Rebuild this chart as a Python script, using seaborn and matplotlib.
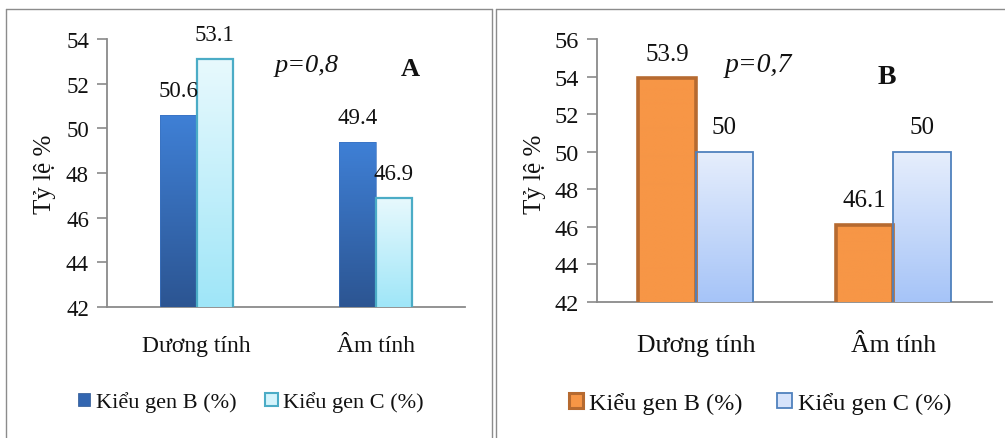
import numpy as np
import pandas as pd
import matplotlib
matplotlib.use("Agg")
import matplotlib.pyplot as plt
from matplotlib.patches import Patch
from matplotlib.lines import Line2D
import matplotlib.colors as mcolors
import seaborn as sns

# ---- data ----
categories = ["Dương tính", "Âm tính"]
series_names = ["Kiểu gen B (%)", "Kiểu gen C (%)"]
panel_a_b = [50.6, 49.4]
panel_a_c = [53.1, 46.9]
panel_b_b = [53.9, 46.1]
panel_b_c = [50.0, 50.0]
ticks_a = [42, 44, 46, 48, 50, 52, 54]
ticks_b = [42, 44, 46, 48, 50, 52, 54, 56]

sns.set_theme(style="white")
SERIF = ["Liberation Serif", "DejaVu Serif"]
plt.rcParams["font.family"] = SERIF
plt.rcParams["font.serif"] = SERIF

W, H = 1005, 439
fig = plt.figure(figsize=(W / 100, H / 100), dpi=100)


def fx(px):
    return px / W


def fy(py):
    return 1 - py / H


def long_frame(b_vals, c_vals):
    rows = []
    for name, vals in zip(series_names, [b_vals, c_vals]):
        for cat, v in zip(categories, vals):
            rows.append({"cat": cat, "series": name, "value": v})
    return pd.DataFrame(rows)


def gradient_fill(ax, patch, top_col, bot_col, ymin):
    x, w = patch.get_x(), patch.get_width()
    ytop = patch.get_y() + patch.get_height()
    c1 = np.array(mcolors.to_rgb(top_col))
    c2 = np.array(mcolors.to_rgb(bot_col))
    t = np.linspace(0, 1, 128)[:, None]
    img = (c1 * (1 - t) + c2 * t)[:, None, :]
    im = ax.imshow(img, extent=[x, x + w, ymin, ytop], origin="upper",
                   aspect="auto", zorder=patch.get_zorder() - 0.1,
                   interpolation="bilinear")
    im.set_clip_path(patch)


def draw_panel(rect, b_vals, c_vals, ticks, width, styles, fs, letter,
               pval, pval_xy, letter_xy, ylabel_xy):
    ax = fig.add_axes(rect)
    df = long_frame(b_vals, c_vals)
    sns.barplot(data=df, x="cat", y="value", hue="series", order=categories,
                hue_order=series_names, width=width, gap=0, ax=ax,
                palette=["#ffffff", "#ffffff"], legend=False, errorbar=None,
                saturation=1)
    ax.set_ylim(ticks[0], ticks[-1])
    ax.set_xlim(-0.5, 1.5)
    ax.set_yticks(ticks)
    ax.set_yticklabels([str(t) for t in ticks], family=SERIF)
    ax.set_xticks(range(len(categories)))
    ax.set_xticklabels(categories, family=SERIF)
    ymin = ticks[0]
    for cont, st in zip(ax.containers, styles):
        for p in cont.patches:
            p.set_facecolor("none")
            p.set_edgecolor(st["edge"])
            p.set_linewidth(st["lw"])
            p.set_zorder(3)
            gradient_fill(ax, p, st["top"], st["bot"], ymin)
        ax.bar_label(cont, labels=[f"{v:g}" for v in cont.datavalues],
                     padding=10, fontsize=fs["val"], color="#111111",
                     family=SERIF)
    for side in ["top", "right"]:
        ax.spines[side].set_visible(False)
    for side in ["left", "bottom"]:
        ax.spines[side].set_color("#8a8a8a")
        ax.spines[side].set_linewidth(1.3)
    ax.tick_params(axis="y", which="major", left=True, length=7, width=1.2,
                   color="#8a8a8a", labelsize=fs["tick"], pad=6,
                   labelcolor="#111111")
    ax.tick_params(axis="x", bottom=False, labelsize=fs["cat"], pad=fs["catpad"],
                   labelcolor="#111111")
    ax.set_xlabel("")
    ax.set_ylabel("")
    ax.set_facecolor("none")
    fig.text(fx(ylabel_xy[0]), fy(ylabel_xy[1]), "Tỷ lệ %", rotation=90,
             ha="center", va="center", fontsize=fs["ylab"], color="#111111",
             family=SERIF)
    fig.text(fx(pval_xy[0]), fy(pval_xy[1]), pval, style="italic",
             ha="center", va="center", fontsize=fs["p"], color="#111111",
             family=SERIF)
    fig.text(fx(letter_xy[0]), fy(letter_xy[1]), letter, weight="bold",
             ha="center", va="center", fontsize=fs["p"], color="#111111",
             family=SERIF)
    return ax


fs_a = {"val": 16.5, "tick": 16.5, "cat": 17, "catpad": 14, "ylab": 18, "p": 19}
fs_b = {"val": 18, "tick": 17.5, "cat": 18.5, "catpad": 17, "ylab": 18, "p": 20}

styles_a = [
    {"top": "#3f80d6", "bot": "#2c5592", "edge": "#3a72c0", "lw": 0.5},
    {"top": "#e8f9fd", "bot": "#9fe6f8", "edge": "#4bacc6", "lw": 1.6},
]
styles_b = [
    {"top": "#f79646", "bot": "#f79646", "edge": "#b66a30", "lw": 2.6},
    {"top": "#e6eefc", "bot": "#a6c4f8", "edge": "#4f81bd", "lw": 1.3},
]

ax_a = draw_panel([fx(107), fy(308), fx(465) - fx(107), fy(40) - fy(308)],
                  panel_a_b, panel_a_c, ticks_a, 0.41, styles_a, fs_a, "A",
                  "p=0,8", (307, 66), (410, 70), (45, 174))
ax_b = draw_panel([fx(597), fy(303), fx(992) - fx(597), fy(40) - fy(303)],
                  panel_b_b, panel_b_c, ticks_b, 0.58, styles_b, fs_b, "B",
                  "p=0,7", (758, 66), (887, 78), (535, 174))

# legends
leg_a = [Patch(facecolor="#3366b0", edgecolor="#2c5592", lw=0.5),
         Patch(facecolor="#d4f4fc", edgecolor="#4bacc6", lw=1.5)]
leg_b = [Patch(facecolor="#f79646", edgecolor="#b66a30", lw=2.2),
         Patch(facecolor="#d6e3fb", edgecolor="#4f81bd", lw=1.3)]
fig.legend(leg_a, series_names, loc="center", bbox_to_anchor=(fx(251), fy(403)),
           ncol=2, frameon=False, prop={"family": SERIF, "size": 16},
           handlelength=0.55, handleheight=0.55, handletextpad=0.25,
           columnspacing=1.3, labelcolor="#111111")
fig.legend(leg_b, series_names, loc="center", bbox_to_anchor=(fx(760), fy(404)),
           ncol=2, frameon=False, prop={"family": SERIF, "size": 17.5},
           handlelength=0.6, handleheight=0.6, handletextpad=0.25,
           columnspacing=1.4, labelcolor="#111111")

# panel frames
frame_kw = dict(color="#8c8c8c", lw=1.0, transform=fig.transFigure)
fig.add_artist(Line2D([fx(6), fx(6)], [fy(10), 0], **frame_kw))
fig.add_artist(Line2D([fx(6), fx(492)], [fy(10), fy(10)], **frame_kw))
fig.add_artist(Line2D([fx(491.5), fx(491.5)], [fy(10), 0], **frame_kw))
fig.add_artist(Line2D([fx(495.5), fx(495.5)], [fy(10), 0], **frame_kw))
fig.add_artist(Line2D([fx(495.5), 1], [fy(10), fy(10)], **frame_kw))

fig.savefig("out.png", dpi=100)
